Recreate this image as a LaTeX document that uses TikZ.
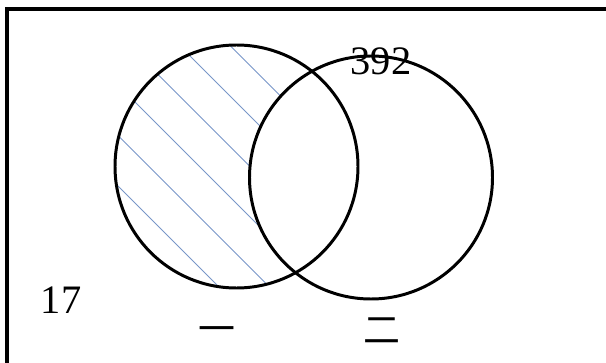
\documentclass[tikz,border=0pt]{standalone}
\usepackage{fontspec}
\setmainfont{Liberation Serif}
\newfontfamily\cjk{Noto Sans CJK SC}
\usepackage{tikz}
\usetikzlibrary{positioning}
\definecolor{hatchblue}{RGB}{120, 150, 200}

\begin{document}
\begin{tikzpicture}[every node/.style={align=center, font=\fontsize{23}{26}\selectfont},
    setcircle/.style={draw, circle, line width=1.7pt, minimum size=4.86cm, inner sep=0pt}]
    \useasboundingbox (0,0) rectangle (12.12,7.24);
    % frame (cut off at right and bottom)
    \draw[line width=2pt] (0.14,-1) -- (0.14,7.06) -- (13,7.06);

    % hatching of the part of set one outside set two
    \begin{scope}
      \clip (4.73,3.91) circle (2.43);
      \foreach \k in {5.88, 6.89, 7.90, 8.91, 9.92, 10.93}
        \draw[hatchblue, line width=0.5pt] (1,\k-1) -- (8,\k-8);
      \fill[white] (7.42,3.69) circle (2.43);
    \end{scope}

    \node[setcircle] (setA) at (4.73,3.91) {};
    \node[setcircle] (setB) at (7.42,3.69) {};

    \node (out) at (1.22,1.24) {17};
    \node (top) at (7.62,6.01) {392};
    \node (labA) at (4.34,0.54) {\cjk\fontsize{21}{24}\selectfont 一};
    \node (labB) at (7.64,0.62) {\cjk\fontsize{21}{24}\selectfont 二};
  \end{tikzpicture}
\end{document}
